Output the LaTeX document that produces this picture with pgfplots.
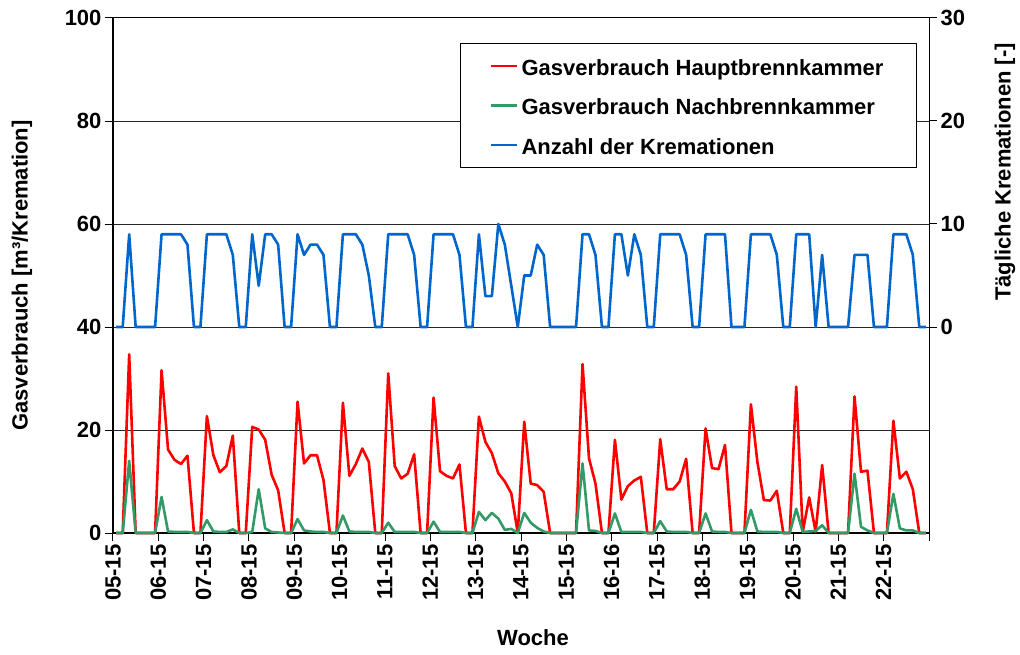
\documentclass[border=0pt]{standalone}
\usepackage{fontspec}
\setmainfont{Liberation Sans}
\usepackage{pgfplots}
\usepackage{pgfplotstable}
\pgfplotsset{compat=1.18}
\definecolor{cred}{RGB}{255,0,0}
\definecolor{cgreen}{RGB}{51,153,102}
\definecolor{cblue}{RGB}{0,102,204}
\newcommand{\bigb}{\fontsize{22}{26}\selectfont\bfseries}

\pgfplotstableread{
d red green blue
0 0 0 0
1 0 0 0
2 34.7 14.0 9
3 0 0 0
4 0 0 0
5 0 0 0
6 0 0 0
7 31.6 7.0 9
8 16.2 0.3 9
9 14.2 0.2 9
10 13.4 0.2 9
11 15.0 0.2 8
12 0 0 0
13 0 0 0
14 22.7 2.5 9
15 15.1 0.3 9
16 11.8 0.2 9
17 13.0 0.2 9
18 18.9 0.7 7
19 0 0 0
20 0 0 0
21 20.6 0.2 9
22 20.1 8.5 4
23 18.1 0.9 9
24 11.3 0.2 9
25 8.3 0.1 8
26 0 0 0
27 0 0 0
28 25.5 2.7 9
29 13.5 0.5 7
30 15.1 0.3 8
31 15.1 0.2 8
32 10.3 0.2 7
33 0 0 0
34 0 0 0
35 25.3 3.4 9
36 11.1 0.3 9
37 13.4 0.2 9
38 16.4 0.2 8
39 13.8 0.2 5
40 0 0 0
41 0 0 0
42 31.0 2.0 9
43 13.0 0.2 9
44 10.6 0.2 9
45 11.5 0.2 9
46 15.3 0.2 7
47 0 0 0
48 0 0 0
49 26.3 2.2 9
50 12.0 0.2 9
51 11.1 0.2 9
52 10.6 0.2 9
53 13.3 0.2 7
54 0 0 0
55 0 0 0
56 22.6 4.1 9
57 17.7 2.5 3
58 15.5 3.9 3
59 11.6 2.8 10
60 10.0 0.6 8
61 7.7 0.8 4
62 0 0 0
63 21.6 3.9 5
64 9.6 2.0 5
65 9.3 1.0 8
66 8.0 0.3 7
67 0 0 0
68 0 0 0
69 0 0 0
70 0 0 0
71 0 0 0
72 32.8 13.5 9
73 14.5 0.5 9
74 9.6 0.4 7
75 0 0 0
76 0 0 0
77 18.1 3.8 9
78 6.5 0.2 9
79 9.1 0.2 5
80 10.2 0.2 9
81 10.9 0.2 7
82 0 0 0
83 0 0 0
84 18.2 2.3 9
85 8.5 0.3 9
86 8.5 0.2 9
87 10.0 0.2 9
88 14.4 0.2 7
89 0 0 0
90 0 0 0
91 20.3 3.8 9
92 12.6 0.3 9
93 12.4 0.2 9
94 17.1 0.2 9
95 0 0 0
96 0 0 0
97 0 0 0
98 25.0 4.5 9
99 13.8 0.3 9
100 6.4 0.2 9
101 6.3 0.2 9
102 8.2 0.2 7
103 0 0 0
104 0 0 0
105 28.4 4.7 9
106 0.2 0.2 9
107 6.9 0.3 9
108 0.2 0.4 0
109 13.2 1.5 7
110 0 0 0
111 0 0 0
112 0 0 0
113 0 0 0
114 26.5 11.5 7
115 11.9 1.2 7
116 12.1 0.5 7
117 0 0 0
118 0 0 0
119 0 0 0
120 21.8 7.6 9
121 10.6 0.9 9
122 11.9 0.5 9
123 8.5 0.5 7
124 0 0 0
125 0 0 0
}\data

\begin{document}
\begin{tikzpicture}
\useasboundingbox (-113pt,-121pt) rectangle (907pt,533pt);
\begin{axis}[
  at={(0pt,0pt)}, anchor=south west,
  scale only axis, width=816pt, height=515pt,
  xmin=0, xmax=126, ymin=0, ymax=100,
  axis x line*=bottom, axis y line*=left,
  axis line style={-, black, line width=2pt},
  xtick={0,7,...,126},
  xticklabels={05-15,06-15,07-15,08-15,09-15,10-15,11-15,12-15,13-15,14-15,15-15,16-16,17-15,18-15,19-15,20-15,21-15,22-15,{}},
  ytick={0,20,...,100},
  ymajorgrids, grid style={black!85, line width=1pt},
  tick align=outside, major tick length=8pt,
  tick style={black, line width=1pt},
  /pgf/number format/assume math mode=true,
  tick label style={font=\bigb},
  x tick label style={rotate=90, anchor=east},
  label style={font=\bigb},
  ylabel={Gasverbrauch [m³/Kremation]},
  ylabel style={at={(rel axis cs:0,0.5)}, anchor=center, rotate=0, yshift=91pt},
  xlabel={Woche},
  xlabel style={at={(rel axis cs:0.5147,0)}, anchor=center, yshift=-105pt},
  clip=false,
  line join=round,
]
\addplot[cred, line width=2.6pt] table[x expr=\thisrow{d}+0.5, y=red] {\data};
\addplot[cgreen, line width=2.6pt] table[x expr=\thisrow{d}+0.5, y=green] {\data};
\end{axis}
\begin{axis}[
  at={(0pt,0pt)}, anchor=south west,
  scale only axis, width=816pt, height=515pt,
  xmin=0, xmax=126, ymin=-20, ymax=30,
  axis x line*=top, axis y line*=right,
  axis line style={-, black, line width=1pt},
  xtick=\empty,
  ytick={0,10,20,30},
  tick align=outside, major tick length=8pt,
  tick style={black, line width=1pt},
  /pgf/number format/assume math mode=true,
  tick label style={font=\bigb},
  label style={font=\bigb},
  ylabel={Tägliche Kremationen [-]},
  ylabel style={at={(rel axis cs:1,0.701)}, anchor=center, yshift=-76pt},
  line join=round,
  legend style={at={(rel axis cs:0.9853,0.9515)}, anchor=north east,
    draw=black, line width=1pt, fill=white, font=\bigb,
    inner xsep=30pt, inner ysep=9pt, row sep=12.5pt,
    nodes={inner sep=3pt, text height=20pt, text depth=1pt},
    cells={anchor=west}},
  legend image code/.code={\draw[#1] (0pt,0pt) -- (26pt,0pt);},
]
\addlegendimage{cred, line width=2.6pt}
\addlegendentry{Gasverbrauch Hauptbrennkammer}
\addlegendimage{cgreen, line width=2.6pt}
\addlegendentry{Gasverbrauch Nachbrennkammer}
\addplot[cblue, line width=2.6pt] table[x expr=\thisrow{d}+0.5, y=blue] {\data};
\addlegendentry{Anzahl der Kremationen}
\end{axis}
\end{tikzpicture}
\end{document}
